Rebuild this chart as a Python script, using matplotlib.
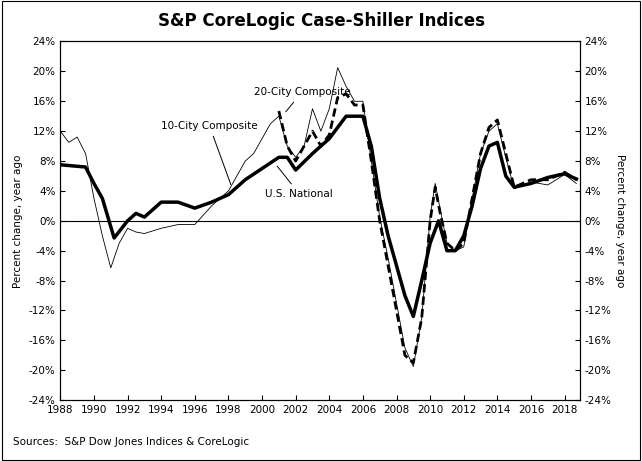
import numpy as np
import matplotlib.pyplot as plt
from matplotlib.ticker import FuncFormatter

nat_x = [1988, 1989.5, 1990, 1990.5, 1991.2, 1992, 1992.5, 1993, 1994, 1995, 1996, 1997, 1998, 1999, 2000,
         2001, 2001.5, 2002, 2003, 2004, 2005, 2006, 2006.5, 2007, 2007.5, 2008, 2008.5, 2009, 2009.5,
         2010, 2010.5, 2011, 2011.5, 2012, 2012.5, 2013, 2013.5, 2014, 2014.5, 2015, 2016, 2017, 2018, 2018.7]
nat_y = [7.5, 7.2, 5, 3, -2.3, 0, 1, 0.5, 2.5, 2.5, 1.7, 2.5, 3.5, 5.5, 7,
         8.5, 8.5, 6.8, 9, 11, 14, 14, 10, 3, -2, -6, -10, -12.8, -8,
         -3, 0, -4, -4, -2, 2, 7, 10, 10.5, 6, 4.5, 5, 5.8, 6.3, 5.6]

c20_x = [2001, 2001.5, 2002, 2002.5, 2003, 2003.5, 2004, 2004.5, 2005, 2005.5, 2006, 2006.5, 2007, 2007.5,
         2008, 2008.5, 2009, 2009.5, 2010, 2010.3, 2010.6, 2011, 2011.5, 2012, 2012.5, 2013, 2013.5, 2014,
         2014.5, 2015, 2016, 2017, 2018, 2018.7]
c20_y = [14.7, 10, 8, 10, 12, 10, 11.5, 16.5, 17, 15.5, 15.5, 8, 0, -6,
         -12, -18, -19, -13, 0, 4.5, 1, -3, -4, -3, 3, 9, 12.5, 13.5,
         9, 4.5, 5.5, 5.5, 6.5, 5.5]

c10_x = [1988, 1988.5, 1989, 1989.5, 1990, 1990.5, 1991, 1991.5, 1992, 1992.5, 1993, 1994, 1995, 1996, 1997,
         1998, 1999, 1999.5, 2000, 2000.5, 2001, 2001.5, 2002, 2002.5, 2003, 2003.5, 2004, 2004.5, 2005,
         2005.5, 2006, 2006.5, 2007, 2007.5, 2008, 2008.5, 2009, 2009.5, 2010, 2010.3, 2010.6, 2011,
         2011.5, 2012, 2012.5, 2013, 2013.5, 2014, 2014.5, 2015, 2016, 2017, 2018, 2018.7]
c10_y = [12, 10.5, 11.2, 9, 3, -2, -6.3, -3, -1, -1.5, -1.7, -1, -0.5, -0.5, 2,
         4, 8, 9, 11, 13, 14, 10, 8.5, 10, 15, 12, 15, 20.5, 18,
         16, 16, 8, 0.5, -5, -11, -17, -19.5, -13, 0.5, 5, 1.5, -3,
         -4, -3.5, 3, 9, 12, 13, 8.5, 4.3, 5.2, 4.8, 6.2, 5.0]

fig, ax = plt.subplots(figsize=(6.42, 4.61), dpi=100)
fig.subplots_adjust(left=0.094, right=0.903, top=0.91, bottom=0.132)
ax.plot(c10_x, c10_y, color="black", lw=0.6)
ax.plot(c20_x, c20_y, color="black", lw=2, ls=(0, (3, 1.5)))
ax.plot(nat_x, nat_y, color="black", lw=2.5)
ax.axhline(0, color="black", lw=0.8)

ax.set_xlim(1988, 2018.9)
ax.set_ylim(-24, 24)
ax.set_xticks(range(1988, 2019, 2))
ax.set_yticks(range(-24, 25, 4))
fmt = FuncFormatter(lambda v, p: f"{int(v)}%")
ax.yaxis.set_major_formatter(fmt)
ax.tick_params(labelsize=7.5, direction="in")
ax.set_ylabel("Percent change, year ago", fontsize=7.5)

axr = ax.twinx()
axr.set_ylim(-24, 24)
axr.set_yticks(range(-24, 25, 4))
axr.yaxis.set_major_formatter(fmt)
axr.tick_params(labelsize=7.5, direction="in")
axr.set_ylabel("Percent change, year ago", fontsize=7.5, rotation=270, labelpad=10)

kw = dict(fontsize=7.5, arrowprops=dict(arrowstyle="-", lw=0.7, color="black"))
ax.annotate("20-City Composite", xy=(2001.3, 14.3), xytext=(1999.5, 16.8), **kw)
ax.annotate("10-City Composite", xy=(1998.2, 4.5), xytext=(1994, 12.3), **kw)
ax.annotate("U.S. National", xy=(2000.8, 7.6), xytext=(2000.2, 3.2), **kw)

fig.suptitle("S&P CoreLogic Case-Shiller Indices", fontsize=12, fontweight="bold", y=0.975)
fig.text(0.02, 0.035, "Sources:  S&P Dow Jones Indices & CoreLogic", fontsize=7.5)
fig.patches.append(plt.Rectangle((0.003, 0.003), 0.994, 0.994, transform=fig.transFigure,
                                 fill=False, lw=0.8, color="black"))
fig.savefig("out.png")
